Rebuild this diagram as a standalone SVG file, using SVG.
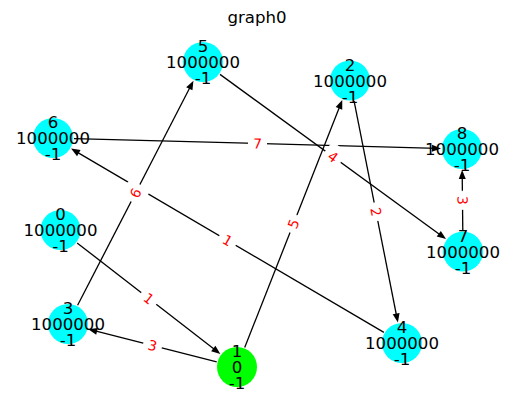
<svg xmlns="http://www.w3.org/2000/svg" width="515" height="409" viewBox="0 0 515 409">
<style>
.e{stroke:#000;stroke-width:1.3;fill:none;marker-end:url(#ah)}
.lb rect{fill:#fff;stroke:#fff}
.lb text{font-family:"DejaVu Sans",sans-serif;font-size:13.9px;fill:#f00;text-anchor:middle}
.n circle{fill:#00ffff}
.n.s circle{fill:#00ff00}
.n text{font-family:"DejaVu Sans",sans-serif;font-size:16.6px;fill:#000;text-anchor:middle}
.t{font-family:"DejaVu Sans",sans-serif;font-size:16.6px;fill:#000;text-anchor:middle}
</style>
<defs>
<marker id="ah" markerUnits="userSpaceOnUse" markerWidth="12" markerHeight="10" refX="5" refY="0" viewBox="-1 -5 12 10" orient="auto">
<path d="M0,-3.5 L9,0 L0,3.5 Z" fill="#000"/>
</marker>
</defs>
<rect width="515" height="409" fill="#fff"/>
<text class="t" x="257" y="23">graph0</text>
<g id="edges">
<line class="e" x1="77.1" y1="242.9" x2="217.2" y2="351.6"/>
<line class="e" x1="216.7" y1="361.8" x2="92.2" y2="330.2"/>
<line class="e" x1="77.6" y1="305.3" x2="191.6" y2="84.3"/>
<line class="e" x1="383.9" y1="332.4" x2="74.5" y2="150.6"/>
<line class="e" x1="244.7" y1="347.5" x2="340.8" y2="103.7"/>
<line class="e" x1="354.1" y1="101.1" x2="397.1" y2="318.5"/>
<line class="e" x1="220" y1="74.4" x2="442.8" y2="236.7"/>
<line class="e" x1="74" y1="138.6" x2="437" y2="148.3"/>
<line class="e" x1="462.8" y1="230.5" x2="462.2" y2="174"/>
</g>
<g id="edge-labels" class="lb">
<g transform="translate(148.75,298.5) rotate(37.8)"><rect x="-9" y="-11.5" width="18" height="23" rx="4"/><text y="5">1</text></g>
<g transform="translate(152.5,345.5) rotate(14.3)"><rect x="-9" y="-11.5" width="18" height="23" rx="4"/><text y="5">3</text></g>
<g transform="translate(135.5,193) rotate(-62.7)"><rect x="-9" y="-11.5" width="18" height="23" rx="4"/><text y="5">6</text></g>
<g transform="translate(227.5,240.5) rotate(30.4)"><rect x="-9" y="-11.5" width="18" height="23" rx="4"/><text y="5">1</text></g>
<g transform="translate(293.5,223.75) rotate(-68.5)"><rect x="-9" y="-11.5" width="18" height="23" rx="4"/><text y="5">5</text></g>
<g transform="translate(376,211.75) rotate(78.8)"><rect x="-9" y="-11.5" width="18" height="23" rx="4"/><text y="5">2</text></g>
<g transform="translate(333,156.75) rotate(36.1)"><rect x="-9" y="-11.5" width="18" height="23" rx="4"/><text y="5">4</text></g>
<g transform="translate(257.5,143.5) rotate(1.5)"><rect x="-9" y="-11.5" width="18" height="23" rx="4"/><text y="5">7</text></g>
<g transform="translate(462.5,200.25) rotate(89.4)"><rect x="-9" y="-11.5" width="18" height="23" rx="4"/><text y="5">3</text></g>
</g>
<g id="node0" class="n"><circle cx="60.5" cy="230" r="20"/><text x="60.5" y="220">0</text><text x="60.5" y="236">1000000</text><text x="60.5" y="252">-1</text></g>
<g id="node1" class="n s"><circle cx="237" cy="367" r="20"/><text x="237" y="357">1</text><text x="237" y="373">0</text><text x="237" y="389">-1</text></g>
<g id="node2" class="n"><circle cx="350" cy="80.5" r="20"/><text x="350" y="70.5">2</text><text x="350" y="86.5">1000000</text><text x="350" y="102.5">-1</text></g>
<g id="node3" class="n"><circle cx="68" cy="324" r="20"/><text x="68" y="314">3</text><text x="68" y="330">1000000</text><text x="68" y="346">-1</text></g>
<g id="node4" class="n"><circle cx="402" cy="343" r="20"/><text x="402" y="333">4</text><text x="402" y="349">1000000</text><text x="402" y="365">-1</text></g>
<g id="node5" class="n"><circle cx="203" cy="62" r="20"/><text x="203" y="52">5</text><text x="203" y="68">1000000</text><text x="203" y="84">-1</text></g>
<g id="node6" class="n"><circle cx="53" cy="138" r="20"/><text x="53" y="128">6</text><text x="53" y="144">1000000</text><text x="53" y="160">-1</text></g>
<g id="node7" class="n"><circle cx="463" cy="251.5" r="20"/><text x="463" y="241.5">7</text><text x="463" y="257.5">1000000</text><text x="463" y="273.5">-1</text></g>
<g id="node8" class="n"><circle cx="462" cy="149" r="20"/><text x="462" y="139">8</text><text x="462" y="155">1000000</text><text x="462" y="171">-1</text></g>
</svg>
